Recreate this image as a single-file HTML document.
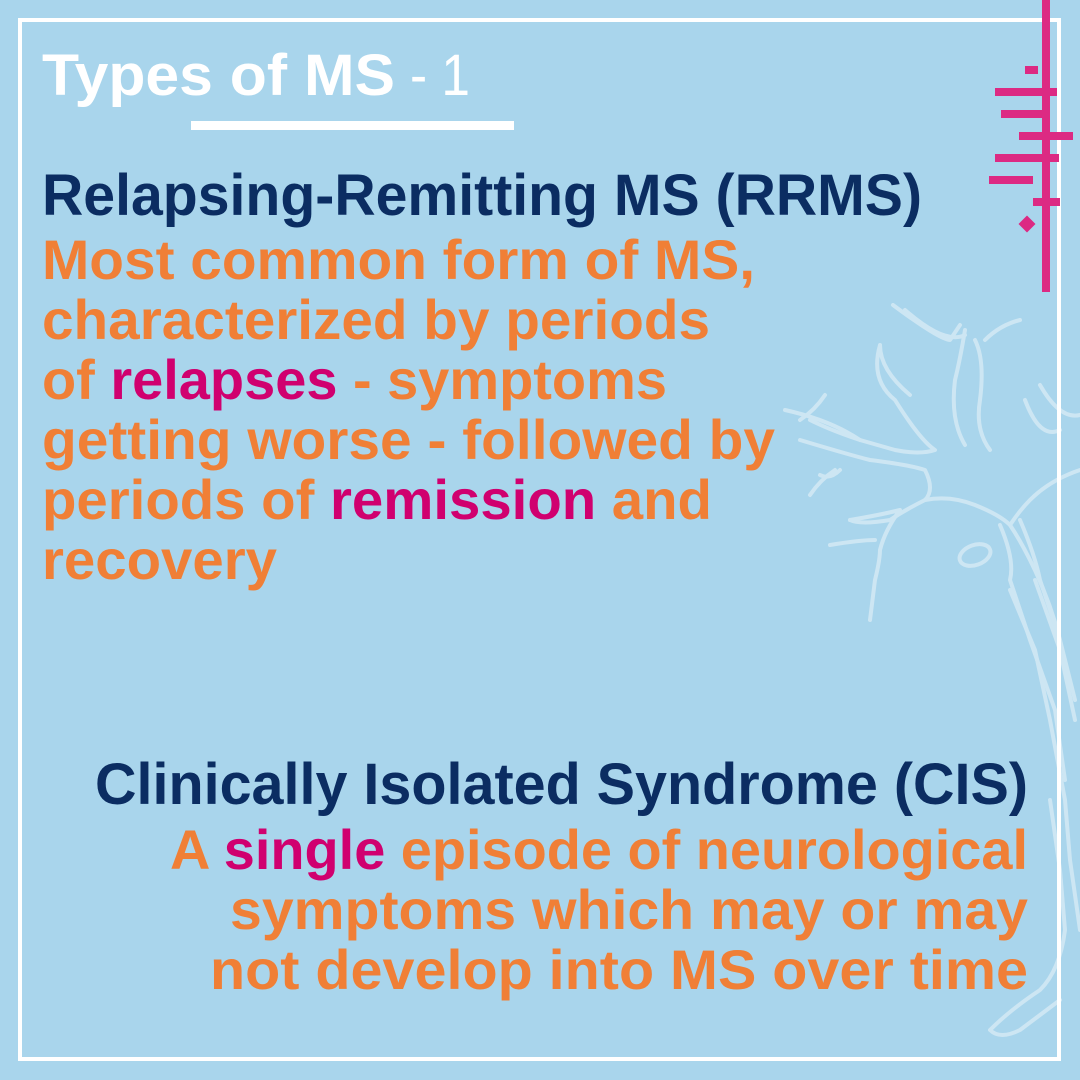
<!DOCTYPE html>
<html><head><meta charset="utf-8"><style>
html,body{margin:0;padding:0;}
body{width:1080px;height:1080px;background:#a9d5ec;overflow:hidden;}
svg{display:block}
</style></head><body>
<svg width="1080" height="1080" viewBox="0 0 1080 1080" xmlns="http://www.w3.org/2000/svg">
<rect width="1080" height="1080" fill="#a9d5ec"/>
<g fill="none" stroke="#cfe7f4" stroke-width="4" stroke-linecap="round" stroke-linejoin="round" opacity="0.95">
<path d="M893 305 Q940 340 950 340 L960 325 M905 310 Q945 345 965 335"/>
<path d="M965 330 Q960 360 955 380 Q950 420 965 445 M985 340 Q1000 325 1020 320 M975 340 Q985 360 980 400 Q975 430 990 450"/>
<path d="M880 345 Q870 380 895 400 Q920 440 935 450 Q920 455 895 450 L860 440 Q830 430 810 420 M880 345 Q880 370 910 395"/>
<path d="M825 395 Q815 410 800 420 M785 410 Q830 420 860 440"/>
<path d="M800 440 Q850 455 870 460 Q910 465 925 470 Q935 490 925 500 Q905 510 890 520 Q860 525 850 520"/>
<path d="M820 475 Q830 480 840 470 M810 495 Q820 480 835 470"/>
<path d="M850 520 Q880 515 900 510 Q885 530 880 550 Q880 560 875 580 L870 620 M875 540 Q860 540 830 545"/>
<path d="M925 500 Q950 495 975 505 Q1000 515 1010 525 Q1020 540 1030 560 M1030 560 Q1050 600 1060 640"/>
<path d="M1010 525 Q1020 510 1030 500 Q1050 480 1080 470 M1025 400 Q1040 440 1060 430 M1040 385 Q1060 420 1080 415"/>
<ellipse cx="975" cy="555" rx="16" ry="10" transform="rotate(-20 975 555)"/>
<path d="M1000 525 Q1015 560 1010 580 L1030 640 L1055 710 L1065 780 M1020 520 Q1035 555 1040 580 L1060 640 L1075 700"/>
<path d="M1010 590 L1035 650 L1050 720 L1065 800 L1070 860 L1080 930 M1035 580 L1060 650 L1075 720"/>
<path d="M1050 800 L1060 870 L1065 930 Q1060 970 1040 990 Q1010 1010 990 1030 Q1000 1040 1020 1030 L1060 1000"/>
</g>
<rect x="20" y="20" width="1039" height="1039" fill="none" stroke="#ffffff" stroke-width="4"/>
<g fill="#dc2a83">
<rect x="1042" y="0" width="8" height="292"/>
<rect x="1025" y="66" width="13" height="8"/>
<rect x="995" y="88" width="62" height="8"/>
<rect x="1001" y="110" width="44" height="8"/>
<rect x="1019" y="132" width="54" height="8"/>
<rect x="995" y="154" width="64" height="8"/>
<rect x="989" y="176" width="44" height="8"/>
<rect x="1033" y="198" width="27" height="8"/>
<rect x="1021" y="218" width="12" height="12" transform="rotate(45 1027 224)"/>
</g>
<text x="42" y="95" font-family="Liberation Sans, sans-serif" font-size="58" fill="#ffffff" font-weight="bold" textLength="353" lengthAdjust="spacingAndGlyphs">Types of MS</text>
<text x="410" y="95" font-family="Liberation Sans, sans-serif" font-size="58" fill="#ffffff" textLength="60" lengthAdjust="spacingAndGlyphs">- 1</text>
<rect x="191" y="121" width="323" height="9" fill="#ffffff"/>
<text x="42" y="215" font-family="Liberation Sans, sans-serif" font-size="58" font-weight="bold" fill="#0b2d62" textLength="880" lengthAdjust="spacingAndGlyphs">Relapsing-Remitting MS (RRMS)</text>
<g font-family="Liberation Sans, sans-serif" font-size="56" font-weight="bold" fill="#f07f36">
<text x="42" y="279" textLength="713" lengthAdjust="spacingAndGlyphs">Most common form of MS,</text>
<text x="42" y="339" textLength="668" lengthAdjust="spacingAndGlyphs">characterized by periods</text>
<text x="42" y="399" textLength="625" lengthAdjust="spacingAndGlyphs">of <tspan fill="#d0006f">relapses</tspan> - symptoms</text>
<text x="42" y="459" textLength="733" lengthAdjust="spacingAndGlyphs">getting worse - followed by</text>
<text x="42" y="519" textLength="670" lengthAdjust="spacingAndGlyphs">periods of <tspan fill="#d0006f">remission</tspan> and</text>
<text x="42" y="579" textLength="235" lengthAdjust="spacingAndGlyphs">recovery</text>
</g>
<text x="95" y="804" font-family="Liberation Sans, sans-serif" font-size="58" font-weight="bold" fill="#0b2d62" textLength="933" lengthAdjust="spacingAndGlyphs">Clinically Isolated Syndrome (CIS)</text>
<g font-family="Liberation Sans, sans-serif" font-size="56" font-weight="bold" fill="#f07f36">
<text x="170" y="869" textLength="858" lengthAdjust="spacingAndGlyphs">A <tspan fill="#d0006f">single</tspan> episode of neurological</text>
<text x="230" y="929" textLength="798" lengthAdjust="spacingAndGlyphs">symptoms which may or may</text>
<text x="210" y="989" textLength="818" lengthAdjust="spacingAndGlyphs">not develop into MS over time</text>
</g>
</svg>
</body></html>
